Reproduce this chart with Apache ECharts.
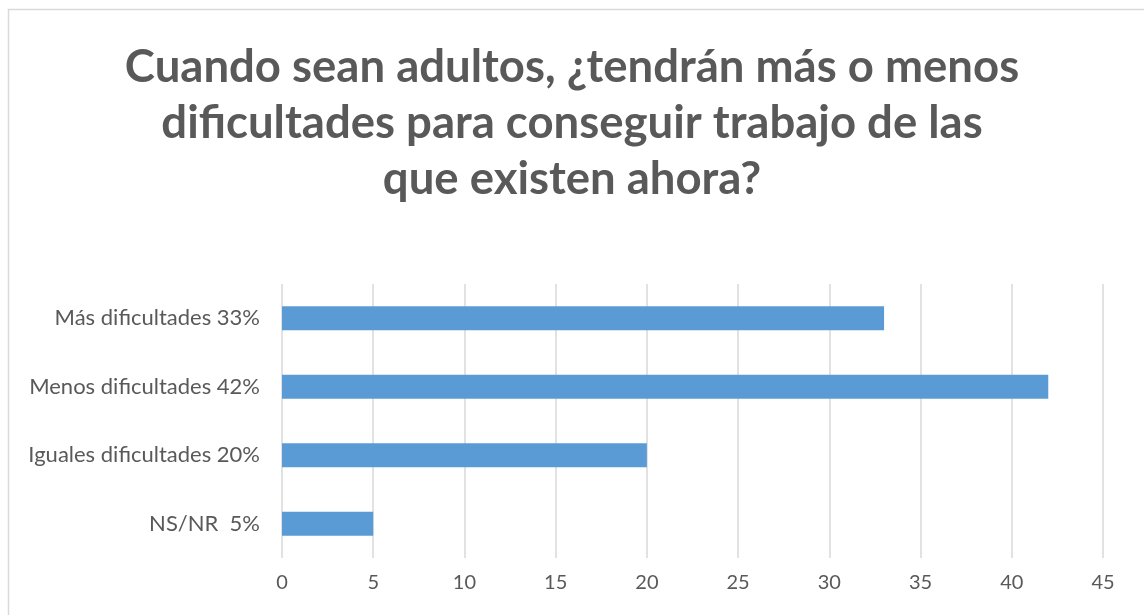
<!DOCTYPE html>
<html>
<head>
<meta charset="utf-8">
<script src="https://cdn.jsdelivr.net/npm/echarts@6/dist/echarts.min.js"></script>
<style>
  html, body { margin: 0; padding: 0; background: #fff; }
  #chart { width: 1144px; height: 615px; }
</style>
</head>
<body>
<div id="chart"></div>
<script>
// datos
const categorias = ['Más dificultades 33%', 'Menos dificultades 42%', 'Iguales dificultades 20%', 'NS/NR  5%'];
const valores = [33, 42, 20, 5];
const titulo = 'Cuando sean adultos, ¿tendrán más o menos\ndificultades para conseguir trabajo de las\nque existen ahora?';

const chart = echarts.init(document.getElementById('chart'));
const fuente = 'Lato, "Open Sans", sans-serif';

chart.setOption({
  animation: false,
  backgroundColor: '#fff',
  graphic: [{
    type: 'rect',
    shape: { x: 8.5, y: 9.5, width: 1160, height: 620 },
    style: { fill: 'none', stroke: '#d9d9d9', lineWidth: 1.5 },
    silent: true
  }],
  title: {
    text: titulo,
    left: 'center',
    top: 34,
    textStyle: {
      fontFamily: fuente,
      fontSize: 45.5,
      fontWeight: 'bold',
      color: '#595959',
      lineHeight: 56
    }
  },
  grid: { left: 282, right: 41, top: 284, bottom: 57 },
  xAxis: {
    type: 'value',
    min: 0,
    max: 45,
    interval: 5,
    axisLine: { show: false },
    axisTick: { show: false },
    splitLine: { lineStyle: { color: '#d9d9d9', width: 1.5 } },
    axisLabel: { fontFamily: fuente, fontSize: 20, color: '#595959', margin: 15 }
  },
  yAxis: {
    type: 'category',
    inverse: true,
    data: categorias,
    axisLine: { show: false },
    axisTick: { show: false },
    axisLabel: { fontFamily: fuente, fontSize: 22, color: '#595959', margin: 22 }
  },
  series: [{
    type: 'bar',
    data: valores,
    barWidth: 24,
    itemStyle: { color: '#5b9bd5' }
  }]
});
</script>
</body>
</html>
